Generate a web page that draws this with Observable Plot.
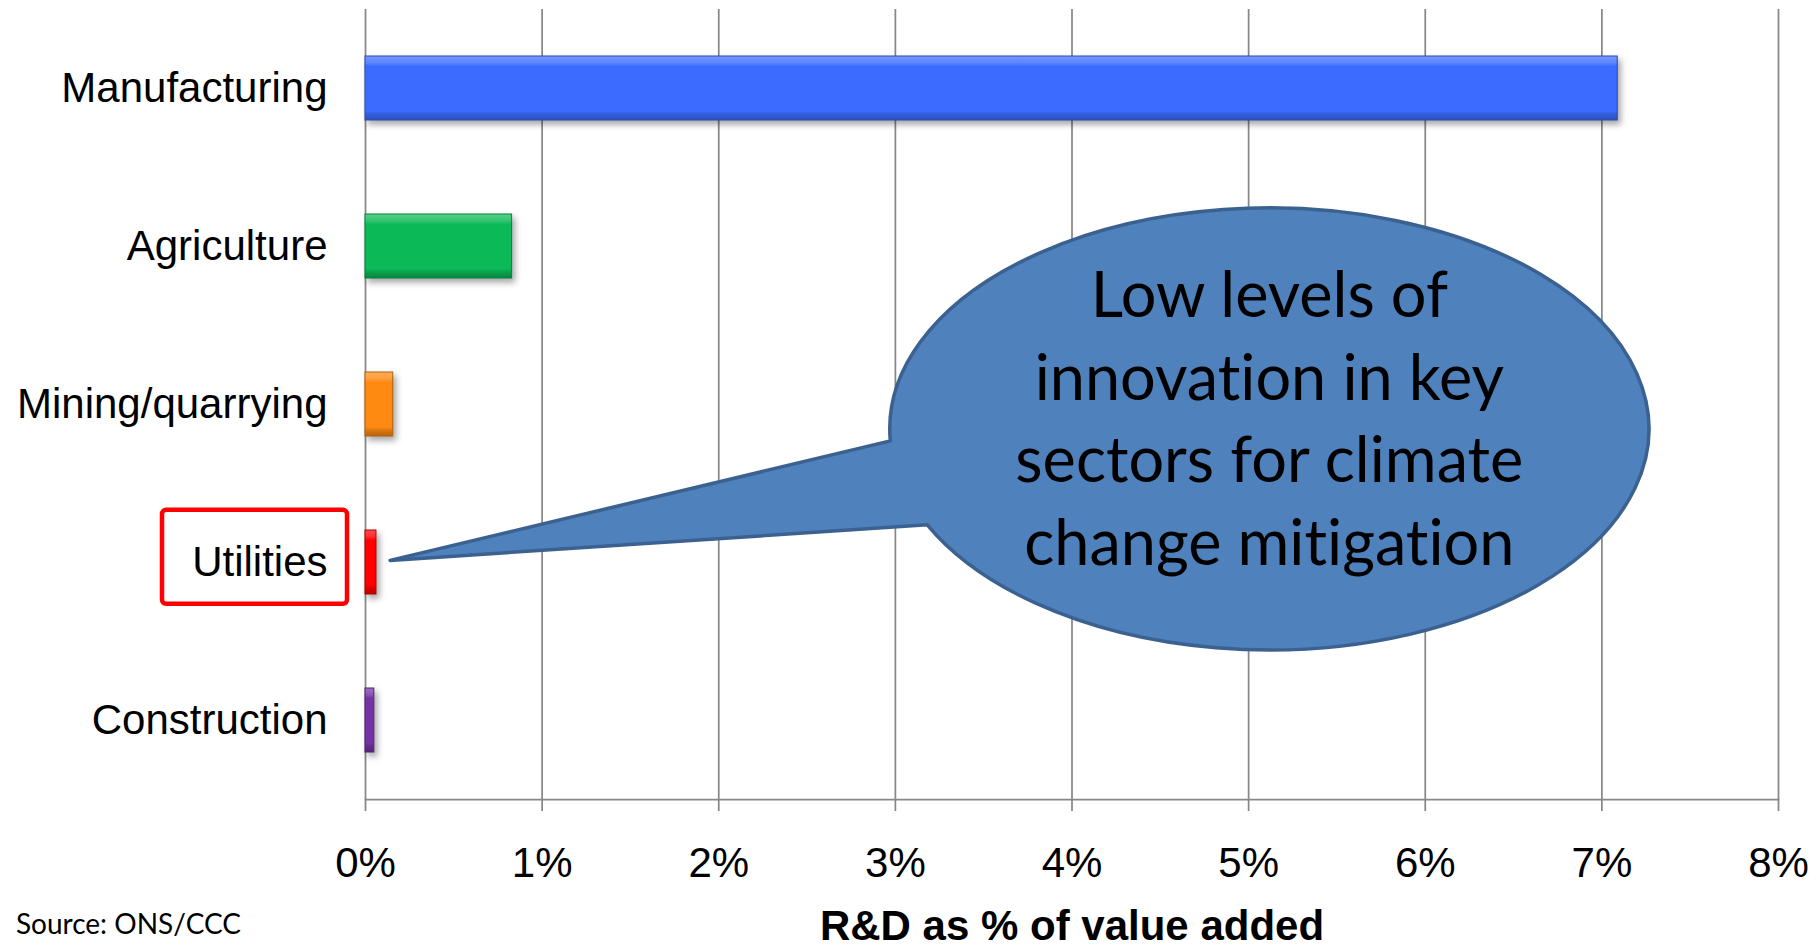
<!DOCTYPE html>
<html><head><meta charset="utf-8">
<script src="https://cdn.jsdelivr.net/npm/d3@7"></script>
<script src="https://cdn.jsdelivr.net/npm/@observablehq/plot@0.6"></script>
<style>
body{margin:0;background:#fff;}
#wrap{position:relative;width:1820px;height:949px;overflow:hidden;}
#source{position:absolute;left:16px;top:906px;font-family:Lato,"Open Sans",sans-serif;font-size:28px;line-height:34px;color:#000;}
</style></head><body>
<div id="wrap"><div id="chart"></div><div id="source"></div></div>
<script>
// ---- data ----
const sectors = ["Manufacturing", "Agriculture", "Mining/quarrying", "Utilities", "Construction"];
const values = [7.09, 0.83, 0.157, 0.062, 0.05];
const colors = ["#3c6cff", "#0bb957", "#ff8a12", "#ff0000", "#7432a4"];
const xTicks = [0, 1, 2, 3, 4, 5, 6, 7, 8];
const xTickLabels = ["0%", "1%", "2%", "3%", "4%", "5%", "6%", "7%", "8%"];
const xLabel = "R&D as % of value added";
const calloutLines = ["Low levels of", "innovation in key", "sectors for climate", "change mitigation"];
const highlighted = "Utilities";
const sourceText = "Source: ONS/CCC";

document.getElementById("source").textContent = sourceText;

const data = sectors.map((s, i) => ({
  sector: s,
  value: values[i],
  fill: `url(#bevel${i})`,
  edge: d3.interpolateRgb(colors[i], "#000")(0.3)
}));

// gradient defs for the bevelled bars
function defsMark() {
  const defs = d3.create("svg:defs");
  colors.forEach((c, i) => {
    const lg = defs.append("linearGradient").attr("id", `bevel${i}`)
      .attr("x1", 0).attr("x2", 0).attr("y1", 0).attr("y2", 1);
    const stops = [
      [0, d3.interpolateRgb(c, "#fff")(0.3)],
      [0.1, d3.interpolateRgb(c, "#fff")(0.18)],
      [0.16, c], [0.86, c],
      [0.9, d3.interpolateRgb(c, "#000")(0.12)],
      [1, d3.interpolateRgb(c, "#000")(0.28)]
    ];
    stops.forEach(([o, col]) => lg.append("stop").attr("offset", o).attr("stop-color", col));
  });
  return defs.node();
}

function bandInfo(scales, dimensions) {
  const inner = dimensions.height - dimensions.marginTop - dimensions.marginBottom;
  const bw = inner / sectors.length;
  return {bw, top: s => scales.y(s)};
}

// red box round the highlighted category label
function highlightBox(index, scales, values, dimensions) {
  const {bw, top} = bandInfo(scales, dimensions);
  const x0 = dimensions.marginLeft;
  const y0 = top(highlighted);
  return d3.create("svg:rect")
    .attr("x", x0 - 203).attr("y", y0 + bw * 0.17)
    .attr("width", 185).attr("height", bw * 0.595)
    .attr("rx", 4).attr("fill", "none")
    .attr("stroke", "#ff0000").attr("stroke-width", 4.5)
    .node();
}

// speech-bubble callout pointing at the highlighted bar
function callout(index, scales, values, dimensions) {
  const {bw, top} = bandInfo(scales, dimensions);
  const cx = scales.x(5.12);
  const rx = scales.x(5.12 + 2.149) - cx;
  const cy = top("Mining/quarrying") + bw * 0.658;
  const ry = bw * 1.399;
  const tipX = scales.x(0.142);
  const tipY = top(highlighted) + bw * 0.49;
  const ta = 176.9 * Math.PI / 180, tb = 154.3 * Math.PI / 180;
  const ax = cx + rx * Math.cos(ta), ay = cy + ry * Math.sin(ta);
  const bx = cx + rx * Math.cos(tb), by = cy + ry * Math.sin(tb);
  const g = d3.create("svg:g");
  g.append("path")
    .attr("d", `M${ax},${ay}L${tipX},${tipY}L${bx},${by}A${rx},${ry} 0 1 0 ${ax},${ay}Z`)
    .attr("fill", "#4f81bd").attr("stroke", "#3b6190").attr("stroke-width", 3.5)
    .attr("stroke-linejoin", "round");
  const lh = 82.7;
  g.append("text")
    .attr("font-family", "Lato, 'Open Sans', sans-serif").attr("font-size", 63)
    .style("font-variant-ligatures", "none")
    .attr("text-anchor", "middle").attr("fill", "#000")
    .selectAll("tspan").data(calloutLines).join("tspan")
    .attr("x", cx).attr("y", (d, i) => cy + (i - 1.5) * lh + 12)
    .text(d => d);
  return g.node();
}

const chart = Plot.plot({
  width: 1820,
  height: 949,
  marginLeft: 365,
  marginRight: 42,
  marginTop: 9,
  marginBottom: 150,
  style: {fontFamily: "'Liberation Sans', Arial, sans-serif", fontSize: "42px", color: "#000", background: "#fff"},
  x: {domain: [0, 8]},
  y: {domain: sectors, padding: 0},
  color: {type: "identity"},
  marks: [
    defsMark,
    Plot.gridX(xTicks, {stroke: "#888", strokeOpacity: 1, strokeWidth: 1.75}),
    Plot.frame({anchor: "bottom", stroke: "#888", strokeWidth: 1.75}),
    Plot.axisX(xTicks, {
      tickSize: 12, tickPadding: 36, stroke: "#888", strokeWidth: 1.75, fontSize: 42,
      tickFormat: (d, i) => xTickLabels[xTicks.indexOf(d)], label: null
    }),
    Plot.axisY({tickSize: 0, tickPadding: 38, fontSize: 42, label: null}),
    Plot.barX(data, {
      x: "value", y: "sector", fill: "fill", stroke: "edge", strokeWidth: 1,
      insetTop: 47, insetBottom: 47,
      imageFilter: "drop-shadow(3px 4px 3px rgba(0,0,0,0.35))"
    }),
    highlightBox,
    callout,
    Plot.text([xLabel], {frameAnchor: "bottom", lineAnchor: "middle", dy: 127, fontWeight: "bold", fontSize: 42})
  ]
});
document.getElementById("chart").appendChild(chart);
</script>
</body></html>
